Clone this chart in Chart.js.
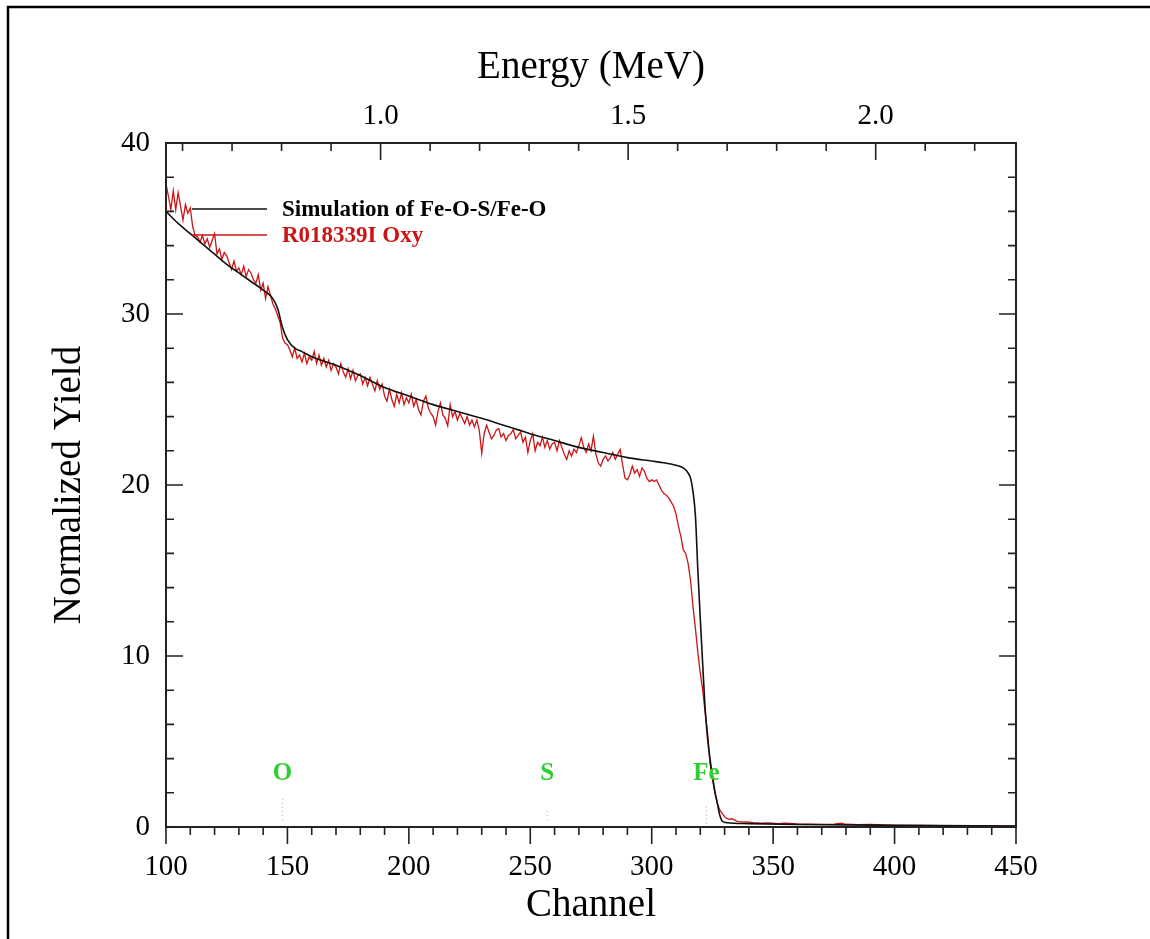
<!DOCTYPE html>
<html>
<head>
<meta charset="utf-8">
<title>Espectro RBS</title>
<script src="https://cdn.jsdelivr.net/npm/chart.js@4.4.1/dist/chart.umd.min.js"></script>
<style>
  html, body { margin: 0; padding: 0; background: #fff; }
  #caixa { width: 1150px; height: 939px; }
</style>
</head>
<body>
<div id="caixa"><canvas id="grafico" width="1150" height="939"></canvas></div>
<script>
/* --- Dados --- */

// Simulação (linha preta)
const simCanal = [100, 105, 110, 115, 120, 125, 130, 135, 140, 144, 146, 148, 150, 153, 156, 160, 170, 180, 190, 200,
  210, 220, 230, 240, 250, 260, 270, 280, 290, 300, 305, 310, 313, 315, 316, 317, 318, 319, 320, 321,
  322, 323, 324, 325, 326, 327, 328, 329, 331, 340, 360, 400, 450];
const simYield = [36.0, 35.3, 34.7, 34.1, 33.5, 32.9, 32.4, 31.9, 31.4, 30.9, 30.3, 29.2, 28.5, 28.0, 27.8, 27.5, 27.0, 26.4, 25.7, 25.2,
  24.7, 24.3, 23.9, 23.45, 23.0, 22.6, 22.2, 21.9, 21.6, 21.4, 21.3, 21.15, 21.0, 20.7, 20.4, 19.6, 18.2, 15.0, 12.2, 9.5,
  6.9, 5.2, 4.0, 3.0, 2.1, 1.4, 0.7, 0.35, 0.25, 0.2, 0.15, 0.1, 0.05];

// Medida R018339I (linha vermelha), um valor por canal a partir do canal 100
const medPrimeiroCanal = 100;
const medYield = [
  37.6, 36.9, 36.1, 37.2, 36.1, 37.1, 36.3, 35.5, 36.4, 35.9,
  36.2, 35.1, 34.6, 34.5, 34.2, 34.6, 34.1, 34.4, 33.9, 34.3,
  34.7, 33.5, 33.8, 33.2, 33.6, 33.4, 33.0, 32.6, 33.1, 32.5,
  32.7, 32.3, 32.8, 32.2, 32.6, 32.4, 32.0, 31.8, 32.3, 31.4,
  31.8, 30.9, 31.6, 31.1, 30.6, 30.3, 29.9, 29.5, 28.6, 28.3,
  28.2, 27.9, 27.5, 28.0, 27.4, 27.6, 27.2, 27.7, 27.1, 27.5,
  27.3, 27.8, 27.1, 27.6, 27.0, 27.4, 26.9, 27.3, 26.7, 27.1,
  26.9, 26.5, 27.1, 26.6, 26.3, 26.8, 26.2, 26.7, 26.1, 26.4,
  26.5, 25.9, 26.3, 25.8, 26.3, 25.9, 25.5, 26.1, 25.6, 25.9,
  25.2, 24.9, 25.6, 25.0, 24.6, 25.3, 24.8, 25.4, 24.7, 25.1,
  24.8, 25.3, 24.6, 25.0, 24.4, 24.1, 24.9, 25.2, 24.5, 24.2,
  24.0, 23.5, 24.3, 24.8, 24.1, 23.9, 23.45, 24.7, 24.0, 24.3,
  23.8, 24.2, 23.9, 23.6, 24.0, 23.5, 23.8, 23.4, 23.8, 23.2,
  21.85, 23.0, 23.5, 23.1, 22.7, 22.9, 23.2, 23.3, 22.8, 23.0,
  22.6, 22.9, 23.0, 23.25, 22.7, 22.9, 23.1, 22.5, 22.8, 21.9,
  22.6, 23.0, 22.0, 22.5, 22.3, 22.8, 22.2, 22.6, 22.1, 22.4,
  22.5, 22.0, 22.6, 22.2, 21.8, 21.5, 22.0, 21.7, 22.1, 21.9,
  22.3, 22.77, 22.2, 21.9, 22.4, 22.0, 22.86, 21.8, 21.3, 21.1,
  21.5, 21.7, 21.4, 21.6, 21.9, 21.5, 21.8, 22.08, 21.2, 20.4,
  20.3, 20.6, 21.1, 20.7, 20.9, 20.5, 21.0, 20.8, 20.4, 20.2,
  20.3, 20.2, 20.3, 20.0, 19.7, 19.5, 19.4, 19.25, 19.0, 18.76,
  18.3, 17.6, 17.0, 16.2, 16.0, 15.4, 14.4, 12.9, 11.6, 10.2,
  9.0, 8.0, 6.7, 5.5, 3.73, 2.8, 2.0, 1.4, 1.0, 0.8,
  0.6, 0.5, 0.45, 0.48, 0.42, 0.35, 0.32, 0.3, 0.28, 0.3
];
// cauda da medida (pontos esparsos)
const caudaCanal = [342, 345, 348, 352, 355, 360, 365, 370, 375, 378, 380, 385, 390, 395, 400, 410, 420, 430, 440, 450];
const caudaYield = [0.25, 0.22, 0.24, 0.2, 0.22, 0.18, 0.17, 0.15, 0.16, 0.22, 0.16, 0.14, 0.15, 0.12, 0.1, 0.09, 0.08, 0.07, 0.06, 0.05];

// Bordas dos elementos
const elementos = ["O", "S", "Fe"];
const elementoCanal = [148, 257, 322.5];
const elementoTopo = [1.7, 1.1, 1.3];
const elementoBase = [0.4, 0.4, 0.2];

// Eixos
const canalMin = 100, canalMax = 450, canalPasso = 50;
const yieldMin = 0, yieldMax = 40, yieldPasso = 10;
const energiaMin = 0.5666, energiaMax = 2.2834, energiaPasso = 0.5;

const serifa = "'Times New Roman', 'Liberation Serif', serif";
const corVermelha = "#cc1414";
const corVerde = "#2fcf2f";

/* --- Montagem dos pontos --- */
const pontosSim = simCanal.map((c, i) => ({ x: c, y: simYield[i] }));
const pontosMed = medYield.map((v, i) => ({ x: medPrimeiroCanal + i, y: v }))
  .concat(caudaCanal.map((c, i) => ({ x: c, y: caudaYield[i] })));

const marcasElementos = elementos.map((nome, i) => ({
  label: "edge " + nome,
  data: [{ x: elementoCanal[i], y: elementoBase[i] }, { x: elementoCanal[i], y: elementoTopo[i] }],
  borderColor: "#9fb59f",
  borderWidth: 1,
  borderDash: [1, 3],
  pointRadius: 0,
  fill: false
}));

/* --- Plugin: moldura, marcas dos eixos, legenda e rótulos --- */
const moldura = {
  id: "moldura",
  beforeDraw(chart) {
    const ctx = chart.ctx;
    ctx.save();
    ctx.fillStyle = "#fff";
    ctx.fillRect(0, 0, chart.width, chart.height);
    ctx.strokeStyle = "#000";
    ctx.lineWidth = 2.5;
    ctx.beginPath();
    ctx.moveTo(8, chart.height);
    ctx.lineTo(8, 7);
    ctx.lineTo(chart.width, 7);
    ctx.stroke();
    ctx.restore();
  },
  afterDatasetsDraw(chart) {
    const { ctx, chartArea: a, scales } = chart;
    ctx.save();

    // legenda
    const itens = [0, 1];
    itens.forEach((idx, k) => {
      const ds = chart.data.datasets[idx];
      const y = a.top + 66 + k * 26;
      ctx.strokeStyle = ds.borderColor;
      ctx.lineWidth = 1.5;
      ctx.beginPath();
      ctx.moveTo(a.left + 26, y);
      ctx.lineTo(a.left + 101, y);
      ctx.stroke();
      ctx.fillStyle = idx === 0 ? "#000" : corVermelha;
      ctx.font = "bold 23px " + serifa;
      ctx.textBaseline = "middle";
      ctx.textAlign = "left";
      ctx.fillText(ds.label, a.left + 116, y + 1);
    });

    // rótulos dos elementos
    ctx.fillStyle = corVerde;
    ctx.font = "bold 25px " + serifa;
    ctx.textAlign = "center";
    ctx.textBaseline = "middle";
    elementos.forEach((nome, i) => {
      ctx.fillText(nome, scales.x.getPixelForValue(elementoCanal[i]), a.bottom - 53);
    });
    ctx.restore();
  },
  afterDraw(chart) {
    const { ctx, chartArea: a, scales } = chart;
    ctx.save();
    ctx.strokeStyle = "#222";
    ctx.lineWidth = 2;
    ctx.strokeRect(a.left, a.top, a.right - a.left, a.bottom - a.top);

    ctx.lineWidth = 1.6;
    ctx.beginPath();
    // yield: para dentro nos dois lados
    for (let v = yieldMin; v <= yieldMax; v += 2) {
      const y = scales.y.getPixelForValue(v);
      const len = v % 10 === 0 ? 17 : 8;
      ctx.moveTo(a.left, y); ctx.lineTo(a.left + len, y);
      ctx.moveTo(a.right, y); ctx.lineTo(a.right - len, y);
    }
    // canal: para fora
    for (let c = canalMin; c <= canalMax; c += 10) {
      const x = scales.x.getPixelForValue(c);
      const len = c % 50 === 0 ? 17 : 8;
      ctx.moveTo(x, a.bottom); ctx.lineTo(x, a.bottom + len);
    }
    // energia: para dentro
    for (let k = 6; k <= 22; k++) {
      const e = k / 10;
      const x = scales.x2.getPixelForValue(e);
      const len = k % 5 === 0 ? 17 : 8;
      ctx.moveTo(x, a.top); ctx.lineTo(x, a.top + len);
    }
    ctx.stroke();
    ctx.restore();
  }
};

const fonteTick = { family: serifa, size: 29 };
const fonteTitulo = { family: serifa, size: 39 };

new Chart(document.getElementById("grafico").getContext("2d"), {
  type: "line",
  data: {
    datasets: [
      {
        label: "Simulation of Fe-O-S/Fe-O",
        data: pontosSim,
        borderColor: "#111",
        borderWidth: 1.6,
        pointRadius: 0,
        cubicInterpolationMode: "monotone",
        fill: false,
        order: 1
      },
      {
        label: "R018339I Oxy",
        data: pontosMed,
        borderColor: corVermelha,
        borderWidth: 1.3,
        pointRadius: 0,
        tension: 0,
        fill: false,
        order: 2
      },
      ...marcasElementos
    ]
  },
  options: {
    responsive: false,
    animation: false,
    parsing: true,
    layout: { padding: { left: 0, top: 0, right: 134, bottom: 0 } },
    plugins: {
      legend: { display: false },
      tooltip: { enabled: false }
    },
    scales: {
      x: {
        type: "linear",
        position: "bottom",
        min: canalMin,
        max: canalMax,
        grid: { display: false, drawTicks: false },
        border: { display: false },
        ticks: { stepSize: canalPasso, font: fonteTick, color: "#000", padding: 23, maxRotation: 0 },
        title: { display: true, text: "Channel", font: fonteTitulo, color: "#000", padding: { top: 0, bottom: 10 } },
        afterFit: (s) => { s.height = 112; }
      },
      x2: {
        type: "linear",
        position: "top",
        min: energiaMin,
        max: energiaMax,
        grid: { display: false, drawTicks: false },
        border: { display: false },
        ticks: {
          stepSize: energiaPasso,
          includeBounds: false,
          font: fonteTick,
          color: "#000",
          padding: 9,
          maxRotation: 0,
          callback: (v) => Number(v).toFixed(1)
        },
        title: { display: true, text: "Energy (MeV)", font: fonteTitulo, color: "#000", padding: { top: 44, bottom: 0 } },
        afterFit: (s) => { s.height = 143; }
      },
      y: {
        type: "linear",
        position: "left",
        min: yieldMin,
        max: yieldMax,
        grid: { display: false, drawTicks: false },
        border: { display: false },
        ticks: { stepSize: yieldPasso, font: fonteTick, color: "#000", padding: 16 },
        title: { display: true, text: "Normalized Yield", font: fonteTitulo, color: "#000", padding: { top: 46, bottom: 0 } },
        afterFit: (s) => { s.width = 166; }
      }
    }
  },
  plugins: [moldura]
});
</script>
</body>
</html>
